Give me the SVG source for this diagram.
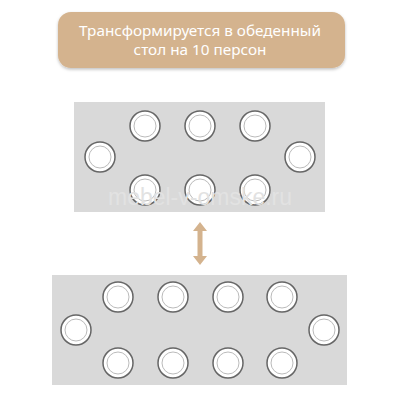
<svg xmlns="http://www.w3.org/2000/svg" width="400" height="400" viewBox="0 0 400 400">
<style>
.plate .o{fill:#fff;stroke:#666;stroke-width:1.5}
.plate .i{fill:#fff;stroke:#bbb;stroke-width:1}
.table{fill:#d9d9d9}
.hdr{font-family:"Noto Sans","Liberation Sans",sans-serif;font-size:15.3px;fill:#fff;text-anchor:middle}
.wm{font-family:"Liberation Sans",sans-serif;font-size:23px;fill:#e2e2e2;text-anchor:middle}
</style>
<defs>
<g id="plate" class="plate"><circle class="o" r="15"/><circle class="i" r="11"/></g>
<filter id="sh" x="-10%" y="-10%" width="120%" height="130%"><feDropShadow dx="0" dy="1.5" stdDeviation="1.5" flood-color="#000" flood-opacity="0.25"/></filter>
</defs>
<g id="header">
<rect x="58" y="12" width="287" height="56" rx="13" fill="#d4b38e" filter="url(#sh)"/>
<text class="hdr" x="200" y="36">Трансформируется в обеденный</text>
<text class="hdr" x="200" y="55">стол на 10 персон</text>
</g>
<g id="table-small">
<rect class="table" x="74" y="102" width="251" height="110"/>
<use href="#plate" x="145" y="126"/>
<use href="#plate" x="200" y="126"/>
<use href="#plate" x="255" y="126"/>
<use href="#plate" x="145" y="190"/>
<use href="#plate" x="200" y="190"/>
<use href="#plate" x="255" y="190"/>
<use href="#plate" x="100" y="157"/>
<use href="#plate" x="300" y="157"/>
<text class="wm" x="200" y="205">mebel-v-omske.ru</text>
</g>
<g id="connectors">
<polygon points="200,222 207,231 202.5,231 202.5,256 207,256 200,265 193,256 197.5,256 197.5,231 193,231" fill="#d4b38e"/>
</g>
<g id="table-large">
<rect class="table" x="52" y="275" width="295" height="110"/>
<use href="#plate" x="118" y="297"/>
<use href="#plate" x="173" y="297"/>
<use href="#plate" x="228" y="297"/>
<use href="#plate" x="282" y="297"/>
<use href="#plate" x="118" y="363"/>
<use href="#plate" x="173" y="363"/>
<use href="#plate" x="228" y="363"/>
<use href="#plate" x="282" y="363"/>
<use href="#plate" x="76" y="330"/>
<use href="#plate" x="324" y="330"/>
</g>
</svg>
